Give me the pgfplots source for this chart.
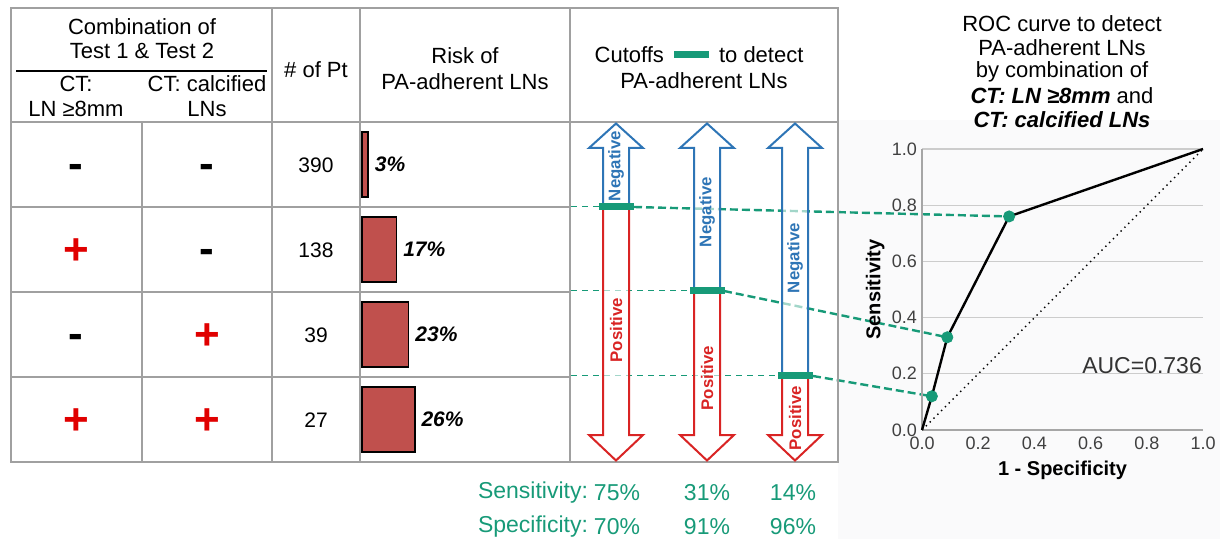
\documentclass[border=0pt]{standalone}
\usepackage{fontspec}
\setmainfont{Liberation Sans}
\usepackage{pgfplots}
\pgfplotsset{compat=1.18}
\definecolor{grn}{HTML}{179A78}
\definecolor{blu}{HTML}{2E75B6}
\definecolor{rd}{HTML}{D92424}
\definecolor{plusred}{HTML}{E00000}
\definecolor{barred}{HTML}{C0504D}
\definecolor{tline}{HTML}{A0A0A0}
\definecolor{panel}{HTML}{FAFAFB}
\pgfdeclarelayer{back}
\pgfdeclarelayer{mid}
\pgfsetlayers{back,mid,main}
\newcommand\fa{\fontsize{11}{13}\selectfont}
\newcommand\fb{\fontsize{11.5}{13}\selectfont}
\newcommand\fn{\fontsize{10.5}{12}\selectfont}
\newcommand\fsym{\bfseries\fontsize{22}{22}\selectfont}
\newcommand\farr{\bfseries\fontsize{8.4}{9}\selectfont}
\newcommand\darrow[2]{%
  \filldraw[blu, line width=1pt, fill=white, fill opacity=0.6] (#1-13,#2) -- (#1-13,148) -- (#1-27,148) -- (#1,123.5) -- (#1+27,148) -- (#1+13,148) -- (#1+13,#2);
  \filldraw[rd, line width=1pt, fill=white, fill opacity=0.6] (#1-13,#2) -- (#1-13,435) -- (#1-27,435) -- (#1,460.5) -- (#1+27,435) -- (#1+13,435) -- (#1+13,#2);
  \fill[grn] (#1-17.5,#2-3.5) rectangle (#1+17.5,#2+3.5);
}
\begin{document}
\begin{tikzpicture}
\useasboundingbox (0,0) rectangle (610pt,-269.5pt);
\begin{scope}[x=0.5pt,y=-0.5pt]
\begin{pgfonlayer}{back}
\fill[panel] (838,120) rectangle (1220,539);
\end{pgfonlayer}
% table lines
\draw[tline, line width=0.6pt] (11,8) rectangle (838,462);
\draw[tline, line width=0.6pt] (11,122) -- (838,122);
\foreach \y in {207,292,377} \draw[tline,line width=0.6pt] (11,\y) -- (570,\y);
\foreach \x in {272,360,570} \draw[tline,line width=0.6pt] (\x,8) -- (\x,462);
\draw[tline,line width=0.6pt] (142,122) -- (142,462);
\draw[black,line width=0.7pt] (16,71) -- (267,71);
% header text
\node[font=\fa] at (142,27) {Combination of};
\node[font=\fa] at (142,51) {Test 1 \& Test 2};
\node[font=\fa] at (76,84) {CT:};
\node[font=\fa] at (76,109) {LN ≥8mm};
\node[font=\fa] at (207,84) {CT: calcified};
\node[font=\fa] at (207,109) {LNs};
\node[font=\fa] at (316,70) {\# of Pt};
\node[font=\fa] at (465,56) {Risk of};
\node[font=\fa] at (465,82) {PA-adherent LNs};
\node[font=\fa, anchor=east] at (671,55) {Cutoffs};
\fill[grn] (674,51.5) rectangle (709,58.5);
\node[font=\fa, anchor=west] at (712,55) {to detect};
\node[font=\fa] at (704,81) {PA-adherent LNs};
% row symbols
\node[font=\fsym, anchor=base] at (76,178.4) {-};
\node[font=\fsym, anchor=base] at (207,178.4) {-};
\node[font=\fsym, anchor=base, text=plusred] at (76,265) {+};
\node[font=\fsym, anchor=base] at (207,263.4) {-};
\node[font=\fsym, anchor=base] at (76,348.4) {-};
\node[font=\fsym, anchor=base, text=plusred] at (207,350) {+};
\node[font=\fsym, anchor=base, text=plusred] at (76,435) {+};
\node[font=\fsym, anchor=base, text=plusred] at (207,435) {+};
% numbers
\node[font=\fn] at (316,165) {390};
\node[font=\fn] at (316,250) {138};
\node[font=\fn] at (316,335) {39};
\node[font=\fn] at (316,420) {27};
% arrows
\darrow{616}{207}
\darrow{707}{291}
\darrow{795}{376}
\node[rotate=90, text=blu, font=\farr] at (616,166) {Negative};
\node[rotate=90, text=rd, font=\farr] at (616,330) {Positive};
\node[rotate=90, text=blu, font=\farr] at (707,212) {Negative};
\node[rotate=90, text=rd, font=\farr] at (707,378) {Positive};
\node[rotate=90, text=blu, font=\farr] at (795,258) {Negative};
\node[rotate=90, text=rd, font=\farr] at (795,418) {Positive};
% bottom
\node[anchor=west, text=grn, font=\fb] at (471,493) {Sensitivity:};
\node[anchor=west, text=grn, font=\fb] at (471,527) {Specificity:};
\node[text=grn, font=\fb] at (617,493) {75\%};
\node[text=grn, font=\fb] at (707,493) {31\%};
\node[text=grn, font=\fb] at (793,493) {14\%};
\node[text=grn, font=\fb] at (617,527) {70\%};
\node[text=grn, font=\fb] at (707,527) {91\%};
\node[text=grn, font=\fb] at (793,527) {96\%};
% ROC title
\node[font=\fa] at (1062,24) {ROC curve to detect};
\node[font=\fa] at (1062,48) {PA-adherent LNs};
\node[font=\fa] at (1062,72) {by combination of};
\node[font=\fa] at (1062,96) {\textbf{\textit{CT: LN ≥8mm}} and};
\node[font=\fa] at (1062,120) {\textbf{\textit{CT: calcified LNs}}};
\end{scope}

% risk bars
\begin{axis}[at={(181pt,-231pt)}, anchor=south west,
  width=101.5pt, height=170pt, scale only axis,
  xmin=0, xmax=100, ymin=0.5, ymax=4.5, y dir=reverse,
  hide axis, clip=false,
  xbar, bar width=32.5pt,
  point meta=x,
  nodes near coords={\pgfmathprintnumber[assume math mode=true]{\pgfplotspointmeta}\%},
  nodes near coords style={anchor=west, inner sep=1pt, xshift=2pt, font=\bfseries\itshape\fontsize{10.5}{12}\selectfont, text=black}]
\addplot[fill=barred, draw=black, line width=0.75pt] table {
x y
3 1
17 2
23 3
26 4
};
\end{axis}

% ROC
\begin{axis}[at={(461pt,-215pt)}, anchor=south west,
  width=140.5pt, height=140.5pt, scale only axis,
  xmin=0, xmax=1, ymin=0, ymax=1, clip=false,
  axis lines*=left,
  axis line style={draw=black!35, line width=0.6pt},
  ymajorgrids, grid style={black!20, line width=0.6pt},
  xtick={0,0.2,0.4,0.6,0.8,1}, ytick={0,0.2,0.4,0.6,0.8,1},
  major tick length=0pt,
  tick label style={font=\fontsize{9}{10}\selectfont, text=black!75},
  yticklabel style={xshift=1pt},
  /pgf/number format/fixed, /pgf/number format/fixed zerofill,
  /pgf/number format/precision=1, /pgf/number format/assume math mode=true]
\addplot[black, dotted, line width=0.7pt] coordinates {(0,0) (1,1)};
\addplot[black, line width=1.2pt, line join=round] coordinates {(0,0) (0.035,0.12) (0.09,0.33) (0.31,0.76) (1,1)};
\addplot[only marks, mark=*, mark size=2.8pt, mark options={draw=grn, fill=grn}] coordinates {(0.035,0.12) (0.09,0.33) (0.31,0.76)};
\coordinate (r1) at (axis cs:0.035,0.12);
\coordinate (r2) at (axis cs:0.09,0.33);
\coordinate (r3) at (axis cs:0.31,0.76);
\node[font=\fontsize{11.5}{13}\selectfont, text=black!80] at (axis cs:0.783,0.231) {AUC=0.736};
\node[font=\fontsize{10}{12}\selectfont\bfseries, rotate=90] at (axis description cs:-0.167,0.5) {Sensitivity};
\node[font=\fontsize{10}{12}\selectfont\bfseries] at (axis description cs:0.5,-0.142) {1 - Specificity};
\end{axis}

\begin{scope}[x=0.5pt,y=-0.5pt]
\begin{pgfonlayer}{mid}
\draw[grn, line width=0.5pt, dash pattern=on 3pt off 2.5pt] (571,207) -- (599,207);
\draw[grn, line width=0.5pt, dash pattern=on 3pt off 2.5pt] (571,291) -- (689,291);
\draw[grn, line width=0.5pt, dash pattern=on 3pt off 2.5pt] (571,376) -- (778,376);
\draw[grn, line width=1.2pt, dash pattern=on 4pt off 2pt] (634,207) -- (r3);
\draw[grn, line width=1.2pt, dash pattern=on 4pt off 2pt] (724,291) -- (r2);
\draw[grn, line width=1.2pt, dash pattern=on 4pt off 2pt] (813,376) -- (r1);
\end{pgfonlayer}
\end{scope}
\end{tikzpicture}
\end{document}
